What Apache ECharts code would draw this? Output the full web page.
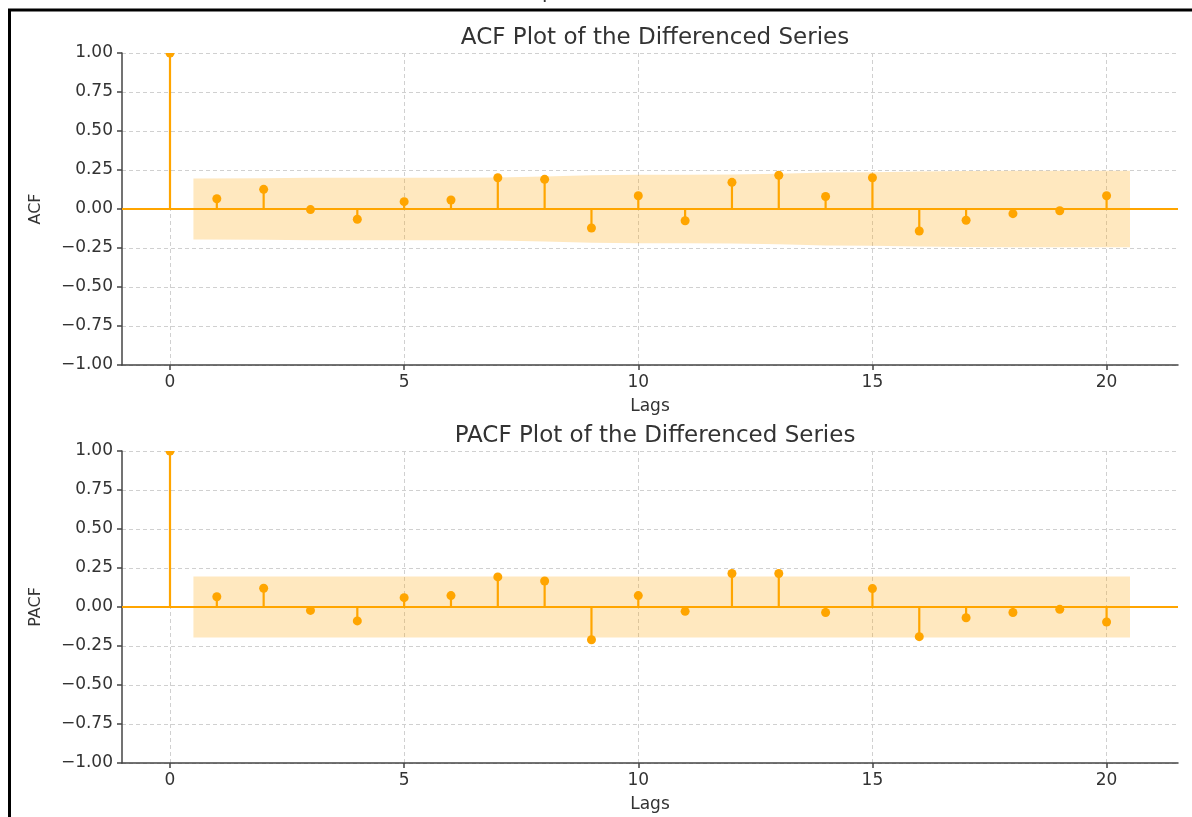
<!DOCTYPE html>
<html>
<head>
<meta charset="utf-8">
<script src="https://cdn.jsdelivr.net/npm/echarts@6/dist/echarts.min.js"></script>
<style>
  html, body { margin: 0; padding: 0; background: #fff; }
  #chart { width: 1192px; height: 817px; }
</style>
</head>
<body>
<div id="chart"></div>
<script>
// lags 0..20
var lags = [0, 1, 2, 3, 4, 5, 6, 7, 8, 9, 10, 11, 12, 13, 14, 15, 16, 17, 18, 19, 20];
var acfValues = [1.0, 0.066, 0.126, -0.004, -0.066, 0.047, 0.058, 0.200, 0.190, -0.122, 0.085,
    -0.075, 0.171, 0.216, 0.080, 0.200, -0.141, -0.072, -0.030, -0.011, 0.085];
var pacfValues = [1.0, 0.066, 0.120, -0.022, -0.089, 0.060, 0.073, 0.193, 0.167, -0.210, 0.073,
    -0.028, 0.215, 0.215, -0.035, 0.118, -0.190, -0.069, -0.035, -0.015, -0.096];
// half-width of the confidence band, lags 1..20
var acfBand = [0.196, 0.197, 0.200, 0.200, 0.201, 0.201, 0.202, 0.209, 0.216, 0.219,
    0.220, 0.221, 0.226, 0.234, 0.235, 0.241, 0.244, 0.245, 0.245, 0.245];
var pacfBand = [0.196, 0.196, 0.196, 0.196, 0.196, 0.196, 0.196, 0.196, 0.196, 0.196,
    0.196, 0.196, 0.196, 0.196, 0.196, 0.196, 0.196, 0.196, 0.196, 0.196];
var xTicks = [0, 5, 10, 15, 20];

var orange = '#ffa500';
var font = 'DejaVu Sans';
var textColor = '#333';

// band x positions: lags 1..20, ends pushed out by half a lag
var bandX = lags.slice(1);
bandX[0] -= 0.5;
bandX[bandX.length - 1] += 0.5;

function bandSeries(idx, band) {
    return {
        type: 'custom',
        xAxisIndex: idx,
        yAxisIndex: idx,
        silent: true,
        z: 1,
        data: bandX.map(function (x, i) { return [x, band[i]]; }),
        renderItem: function (params, api) {
            if (params.dataIndex !== 0) return null;
            var pts = [];
            for (var i = 0; i < bandX.length; i++) pts.push(api.coord([bandX[i], band[i]]));
            for (var j = bandX.length - 1; j >= 0; j--) pts.push(api.coord([bandX[j], -band[j]]));
            return {
                type: 'polygon',
                shape: { points: pts },
                style: { fill: 'rgba(255,165,0,0.25)', stroke: null }
            };
        }
    };
}

function stemSeries(idx, vals) {
    return {
        type: 'custom',
        xAxisIndex: idx,
        yAxisIndex: idx,
        clip: true,
        z: 3,
        data: lags.map(function (l, i) { return [l, vals[i]]; }),
        renderItem: function (params, api) {
            var base = api.coord([api.value(0), 0]);
            var tip = api.coord([api.value(0), api.value(1)]);
            return {
                type: 'group',
                children: [
                    { type: 'line', shape: { x1: base[0], y1: base[1], x2: tip[0], y2: tip[1] },
                      style: { stroke: orange, lineWidth: 2.2 } },
                    { type: 'circle', shape: { cx: tip[0], cy: tip[1], r: 4.5 },
                      style: { fill: orange } }
                ]
            };
        },
        markLine: {
            silent: true,
            symbol: 'none',
            label: { show: false },
            lineStyle: { color: orange, width: 2, type: 'solid' },
            data: [{ yAxis: 0 }]
        }
    };
}

function xAxis(idx) {
    return {
        gridIndex: idx,
        type: 'value',
        min: -1.025,
        max: 21.525,
        name: 'Lags',
        nameLocation: 'middle',
        nameGap: 33,
        nameTextStyle: { fontFamily: font, fontSize: 17, color: textColor },
        axisLine: { show: true, onZero: false, lineStyle: { color: '#444', width: 1.5 } },
        axisTick: { show: true, customValues: xTicks, length: 5, lineStyle: { color: '#444', width: 1.5 } },
        axisLabel: { customValues: xTicks, fontFamily: font, fontSize: 17, color: textColor, margin: 9 },
        splitLine: { show: true, lineStyle: { color: '#d0d0d0', width: 1, type: [4, 3] } }
    };
}

function yAxis(idx, name) {
    return {
        gridIndex: idx,
        type: 'value',
        min: -1,
        max: 1,
        interval: 0.25,
        name: name,
        nameLocation: 'middle',
        nameGap: 78,
        nameTextStyle: { fontFamily: font, fontSize: 16, color: textColor },
        axisLine: { show: true, onZero: false, lineStyle: { color: '#444', width: 1.5 } },
        axisTick: { show: true, length: 5, lineStyle: { color: '#444', width: 1.5 } },
        axisLabel: {
            fontFamily: font, fontSize: 17, color: textColor, margin: 9,
            formatter: function (v) { return v.toFixed(2).replace('-', '\u2212'); }
        },
        splitLine: { show: true, lineStyle: { color: '#d0d0d0', width: 1, type: [4, 3] } }
    };
}

var myChart = echarts.init(document.getElementById('chart'));
var option = {
    backgroundColor: '#fff',
    animation: false,
    title: [
        { text: 'ACF Plot of the Differenced Series', left: 650, top: 22, textAlign: 'center',
          textStyle: { fontFamily: font, fontSize: 23, fontWeight: 'normal', color: textColor } },
        { text: 'PACF Plot of the Differenced Series', left: 650, top: 420, textAlign: 'center',
          textStyle: { fontFamily: font, fontSize: 23, fontWeight: 'normal', color: textColor } }
    ],
    grid: [
        { left: 122, top: 53, width: 1056, height: 312 },
        { left: 122, top: 451, width: 1056, height: 312 }
    ],
    xAxis: [xAxis(0), xAxis(1)],
    yAxis: [yAxis(0, 'ACF'), yAxis(1, 'PACF')],
    graphic: {
        elements: [
            // frame of the cropped screenshot
            { type: 'line', shape: { x1: 8, y1: 10, x2: 1192, y2: 10 }, style: { stroke: '#000', lineWidth: 3 } },
            { type: 'line', shape: { x1: 9.5, y1: 10, x2: 9.5, y2: 817 }, style: { stroke: '#000', lineWidth: 3 } },
            // bit of a cropped heading above the frame
            { type: 'text', left: 542, top: -17, style: { text: 'p', font: '20px DejaVu Sans', fill: '#333' } }
        ]
    },
    series: [
        bandSeries(0, acfBand),
        stemSeries(0, acfValues),
        bandSeries(1, pacfBand),
        stemSeries(1, pacfValues)
    ]
};
myChart.setOption(option);
</script>
</body>
</html>
